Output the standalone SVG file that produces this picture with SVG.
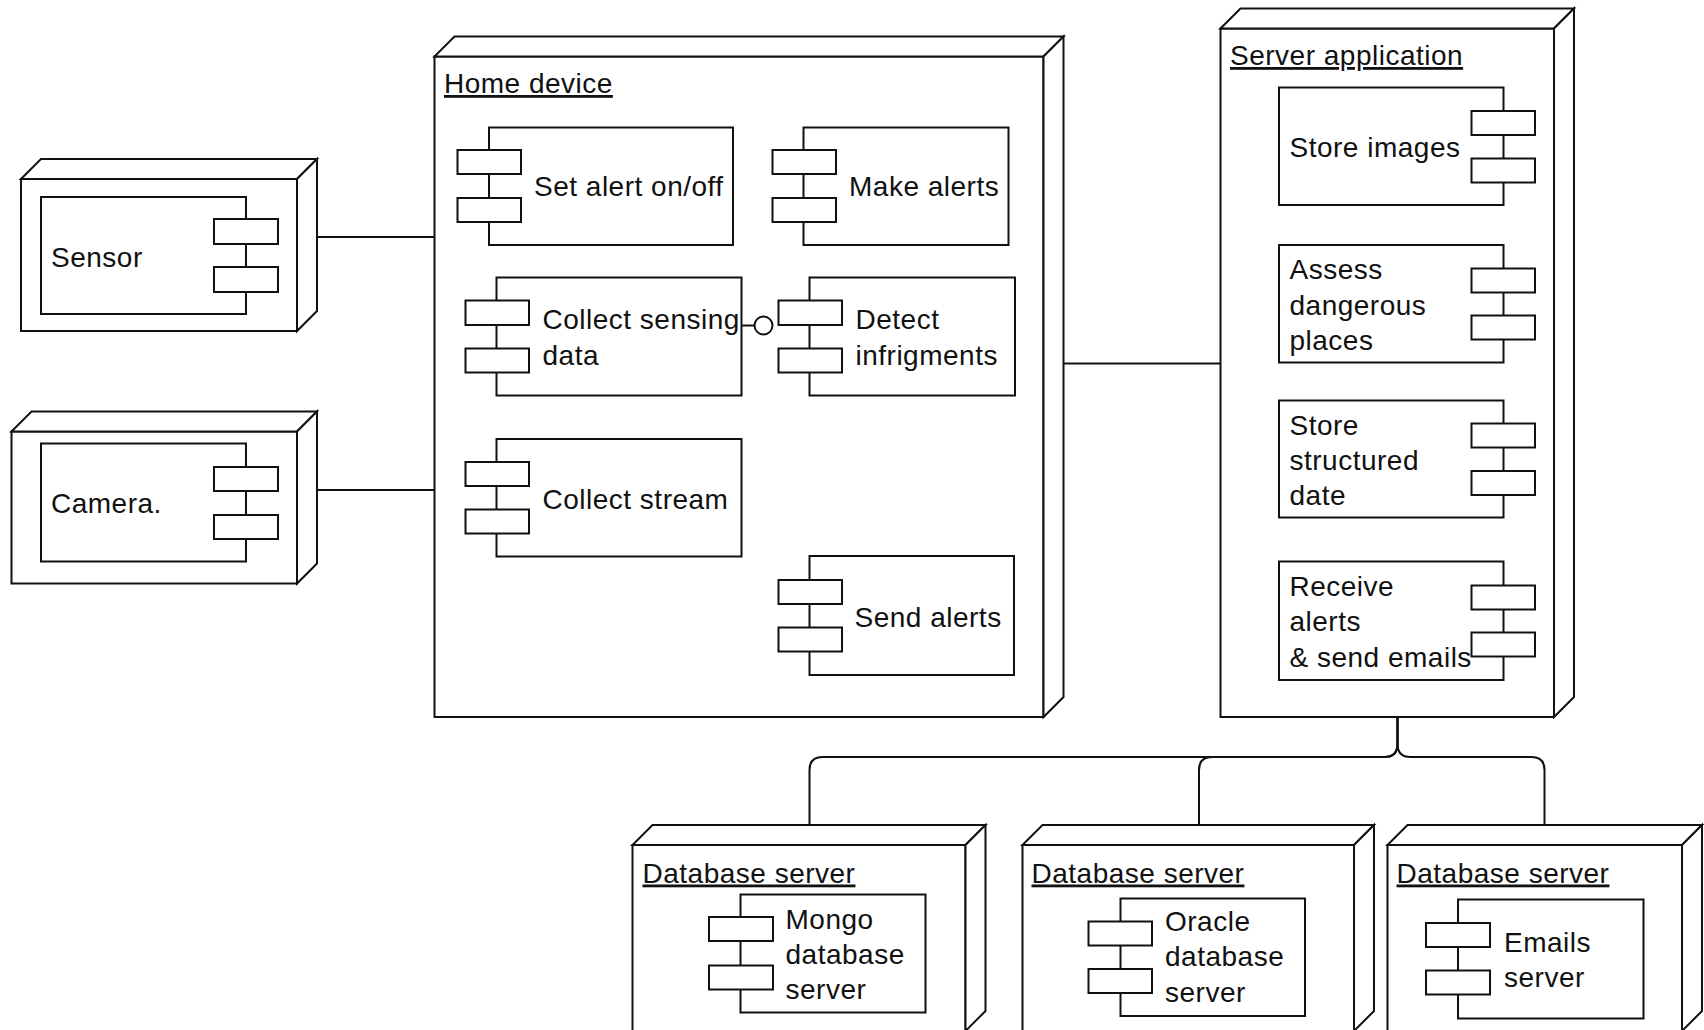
<svg xmlns="http://www.w3.org/2000/svg" width="1704" height="1030" viewBox="0 0 1704 1030">
  <style>
    .ln { fill: none; stroke: #111; stroke-width: 2; }
    .box { fill: #fff; stroke: #111; stroke-width: 2; stroke-linejoin: miter; }
    text { font-family: "Liberation Sans", Arial, Helvetica, sans-serif; font-size: 28px; fill: #111; letter-spacing: 0.5px; }
    .u { text-decoration: underline; }
  </style>
  <rect x="0" y="0" width="1704" height="1030" fill="#fff"/>

  <!-- links between nodes -->
  <g id="connectors">
    <path class="ln" d="M317,237 H434.5"/>
    <path class="ln" d="M317,490 H434.5"/>
    <path class="ln" d="M1063.5,363.5 H1220.5"/>
    <path class="ln" d="M1397.5,717 V744 Q1397.5,757 1384.5,757 H822.5 Q809.5,757 809.5,770 V825"/>
    <path class="ln" d="M1397.5,717 V744 Q1397.5,757 1384.5,757 H1212 Q1199,757 1199,770 V825"/>
    <path class="ln" d="M1397.5,717 V744 Q1397.5,757 1410.5,757 H1531.5 Q1544.5,757 1544.5,770 V825"/>
  </g>

  <!-- Sensor -->
  <g id="sensor">
    <rect class="box" x="21" y="179" width="276" height="152"/>
    <path class="box" d="M21,179 L41,159 H317 L297,179 Z"/>
    <path class="box" d="M297,179 L317,159 V311 L297,331 Z"/>
    <rect class="box" x="41" y="197" width="205" height="117"/>
    <rect class="box" x="214" y="219" width="64" height="25"/>
    <rect class="box" x="214" y="267" width="64" height="25"/>
    <text x="51" y="267">Sensor</text>
  </g>

  <!-- Camera -->
  <g id="camera">
    <rect class="box" x="11.5" y="431.5" width="285.5" height="152"/>
    <path class="box" d="M11.5,431.5 L31.5,411.5 H317 L297,431.5 Z"/>
    <path class="box" d="M297,431.5 L317,411.5 V563.5 L297,583.5 Z"/>
    <rect class="box" x="41" y="443.5" width="205" height="118"/>
    <rect class="box" x="214" y="467" width="64" height="24"/>
    <rect class="box" x="214" y="515" width="64" height="24"/>
    <text x="51" y="513">Camera.</text>
  </g>

  <!-- Home device -->
  <g id="home-device">
    <rect class="box" x="434.5" y="56.5" width="609" height="660.5"/>
    <path class="box" d="M434.5,56.5 L454.5,36.5 H1063.5 L1043.5,56.5 Z"/>
    <path class="box" d="M1043.5,56.5 L1063.5,36.5 V697 L1043.5,717 Z"/>
    <text class="u" x="444" y="93">Home device</text>

    <g id="set-alert">
      <rect class="box" x="489" y="127.5" width="244" height="117.5"/>
      <rect class="box" x="457.5" y="150" width="63.5" height="24"/>
      <rect class="box" x="457.5" y="198" width="63.5" height="24"/>
      <text x="534" y="196">Set alert on/off</text>
    </g>
    <g id="make-alerts">
      <rect class="box" x="803.5" y="127.5" width="205" height="117.5"/>
      <rect class="box" x="772.5" y="150" width="63.5" height="24"/>
      <rect class="box" x="772.5" y="198" width="63.5" height="24"/>
      <text x="849" y="196">Make alerts</text>
    </g>
    <g id="collect-sensing">
      <rect class="box" x="496.5" y="277.5" width="245" height="118"/>
      <rect class="box" x="465.5" y="300.5" width="63.5" height="24.5"/>
      <rect class="box" x="465.5" y="348.5" width="63.5" height="24"/>
      <text x="542.5" y="329">Collect sensing</text>
      <text x="542.5" y="364.5">data</text>
    </g>
    <!-- provided interface between sensing and detection -->
    <g id="sensing-interface">
      <path class="ln" d="M741.5,325.5 H754.5"/>
      <circle class="box" cx="763.5" cy="325.5" r="9"/>
    </g>
    <g id="detect">
      <rect class="box" x="809.5" y="277.5" width="205.5" height="118"/>
      <rect class="box" x="778.5" y="300.5" width="63.5" height="24.5"/>
      <rect class="box" x="778.5" y="348.5" width="63.5" height="24"/>
      <text x="855.5" y="329">Detect</text>
      <text x="855.5" y="364.5">infrigments</text>
    </g>
    <g id="collect-stream">
      <rect class="box" x="496.5" y="439" width="245" height="117.5"/>
      <rect class="box" x="465.5" y="462" width="63.5" height="24"/>
      <rect class="box" x="465.5" y="509.5" width="63.5" height="24"/>
      <text x="542.5" y="508.5">Collect stream</text>
    </g>
    <g id="send-alerts">
      <rect class="box" x="809.5" y="556" width="204.5" height="119"/>
      <rect class="box" x="778.5" y="580" width="63.5" height="24"/>
      <rect class="box" x="778.5" y="627.5" width="63.5" height="24"/>
      <text x="854.5" y="627">Send alerts</text>
    </g>
  </g>

  <!-- Server application -->
  <g id="server-application">
    <rect class="box" x="1220.5" y="28.5" width="333.5" height="688.5"/>
    <path class="box" d="M1220.5,28.5 L1240.5,8.5 H1574 L1554,28.5 Z"/>
    <path class="box" d="M1554,28.5 L1574,8.5 V697 L1554,717 Z"/>
    <text class="u" x="1230" y="65">Server application</text>

    <g id="store-images">
      <rect class="box" x="1279" y="87.5" width="224.5" height="117.5"/>
      <rect class="box" x="1471.5" y="111" width="63.5" height="24"/>
      <rect class="box" x="1471.5" y="158.5" width="63.5" height="24"/>
      <text x="1289.5" y="157">Store images</text>
    </g>
    <g id="assess-places">
      <rect class="box" x="1279" y="245" width="224.5" height="117.5"/>
      <rect class="box" x="1471.5" y="268.5" width="63.5" height="24"/>
      <rect class="box" x="1471.5" y="315.5" width="63.5" height="24"/>
      <text x="1289.5" y="278.5">Assess</text>
      <text x="1289.5" y="314.5">dangerous</text>
      <text x="1289.5" y="350">places</text>
    </g>
    <g id="store-structured">
      <rect class="box" x="1279" y="400.5" width="224.5" height="117"/>
      <rect class="box" x="1471.5" y="423.5" width="63.5" height="24"/>
      <rect class="box" x="1471.5" y="471" width="63.5" height="24"/>
      <text x="1289.5" y="434.5">Store</text>
      <text x="1289.5" y="469.5">structured</text>
      <text x="1289.5" y="505">date</text>
    </g>
    <g id="receive-alerts">
      <rect class="box" x="1279" y="561.5" width="224.5" height="118.5"/>
      <rect class="box" x="1471.5" y="585.5" width="63.5" height="24"/>
      <rect class="box" x="1471.5" y="632.5" width="63.5" height="24"/>
      <text x="1289.5" y="596">Receive</text>
      <text x="1289.5" y="631">alerts</text>
      <text x="1289.5" y="666.5">&amp; send emails</text>
    </g>
  </g>

  <!-- Database server: Mongo -->
  <g id="db-mongo">
    <rect class="box" x="632.5" y="845" width="333" height="186"/>
    <path class="box" d="M632.5,845 L652.5,825 H985.5 L965.5,845 Z"/>
    <path class="box" d="M965.5,845 L985.5,825 V1011 L965.5,1031 Z"/>
    <text class="u" x="642.5" y="882.5">Database server</text>
    <rect class="box" x="740.5" y="894.5" width="185" height="118"/>
    <rect class="box" x="709" y="917" width="64" height="24"/>
    <rect class="box" x="709" y="965.5" width="64" height="24"/>
    <text x="785.5" y="928.5">Mongo</text>
    <text x="785.5" y="963.5">database</text>
    <text x="785.5" y="998.5">server</text>
  </g>

  <!-- Database server: Oracle -->
  <g id="db-oracle">
    <rect class="box" x="1022.5" y="845" width="331.5" height="186"/>
    <path class="box" d="M1022.5,845 L1042.5,825 H1374 L1354,845 Z"/>
    <path class="box" d="M1354,845 L1374,825 V1011 L1354,1031 Z"/>
    <text class="u" x="1031.5" y="882.5">Database server</text>
    <rect class="box" x="1120.5" y="898.5" width="184.5" height="117.5"/>
    <rect class="box" x="1088.5" y="921.5" width="63.5" height="24"/>
    <rect class="box" x="1088.5" y="969" width="63.5" height="24"/>
    <text x="1165" y="931">Oracle</text>
    <text x="1165" y="966">database</text>
    <text x="1165" y="1001.5">server</text>
  </g>

  <!-- Database server: Emails -->
  <g id="db-emails">
    <rect class="box" x="1387.5" y="845" width="294.5" height="186"/>
    <path class="box" d="M1387.5,845 L1407.5,825 H1702 L1682,845 Z"/>
    <path class="box" d="M1682,845 L1702,825 V1011 L1682,1031 Z"/>
    <text class="u" x="1396.5" y="882.5">Database server</text>
    <rect class="box" x="1458" y="899.5" width="185.5" height="119"/>
    <rect class="box" x="1426" y="923" width="64" height="24"/>
    <rect class="box" x="1426" y="970.5" width="64" height="24"/>
    <text x="1504" y="951.5">Emails</text>
    <text x="1504" y="986.5">server</text>
  </g>
</svg>
